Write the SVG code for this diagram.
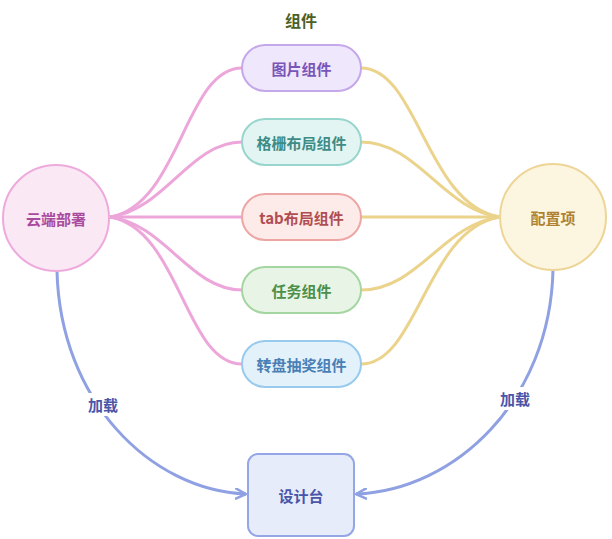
<svg xmlns="http://www.w3.org/2000/svg" width="612" height="539" viewBox="0 0 612 539">
<style>
text{font-family:"Noto Sans CJK SC","Noto Sans",sans-serif;font-weight:bold;font-size:15px;text-anchor:middle;dominant-baseline:central}
.pk{fill:none;stroke:#eda6da;stroke-width:3}
.yl{fill:none;stroke:#ebd38c;stroke-width:3}
.bl{fill:none;stroke:#8fa1e3;stroke-width:3}
.n{stroke-width:2}
</style>
<defs>
<marker id="ab" viewBox="0 0 12 12" refX="11" refY="6" markerWidth="12" markerHeight="12" markerUnits="userSpaceOnUse" orient="auto">
<path d="M1,1 L11,6 L1,11" fill="none" stroke="#8fa1e3" stroke-width="2.5" stroke-linecap="round" stroke-linejoin="round"/>
</marker>
</defs>
<rect width="612" height="539" fill="#ffffff"/>
<text x="301" y="20" font-size="16" style="font-size:16px" fill="#4a6024">组件</text>
<g id="connectors">
<path class="pk" d="M110,217 C180,205 185,68 242,68"/>
<path class="pk" d="M110,217 C165,210 190,142 242,142"/>
<path class="pk" d="M110,217 L242,217"/>
<path class="pk" d="M110,217 C165,224 190,290 242,290"/>
<path class="pk" d="M110,217 C180,229 185,364 242,364"/>
<path class="yl" d="M361,68 C418,68 426,205 500,217"/>
<path class="yl" d="M361,142 C418,142 443,210 500,217"/>
<path class="yl" d="M361,217 L500,217"/>
<path class="yl" d="M361,290 C418,290 443,224 500,217"/>
<path class="yl" d="M361,364 C418,364 426,229 500,217"/>
<path class="bl" d="M57,271 C60,400 150,490 246,494" marker-end="url(#ab)"/>
<path class="bl" d="M553,270 C550,400 456,490 356,494" marker-end="url(#ab)"/>
<rect x="86" y="393" width="34" height="23" fill="#ffffff"/>
<text x="103" y="404" fill="#4a55a8">加载</text>
<rect x="498" y="387" width="34" height="23" fill="#ffffff"/>
<text x="515" y="398" fill="#4a55a8">加载</text>
</g>
<g id="cloud">
<circle class="n" cx="56" cy="218" r="53" fill="#fae8f5" stroke="#eeaadc"/>
<text x="56" y="218" fill="#a94a9d">云端部署</text>
</g>
<g id="config">
<circle class="n" cx="553" cy="217" r="53" fill="#fcf5df" stroke="#ecd596"/>
<text x="553" y="217" fill="#ae8233">配置项</text>
</g>
<g id="pic">
<rect class="n" x="242" y="45" width="119" height="46" rx="23" fill="#efe7fb" stroke="#c4a8ea"/>
<text x="301.5" y="68" fill="#7a55b8">图片组件</text>
</g>
<g id="grid">
<rect class="n" x="242" y="119" width="119" height="46" rx="23" fill="#e2f5f3" stroke="#98d5cd"/>
<text x="301.5" y="142" fill="#3e8c86">格栅布局组件</text>
</g>
<g id="tab">
<rect class="n" x="242" y="194" width="119" height="46" rx="23" fill="#fdebea" stroke="#eea6a4"/>
<text x="301.5" y="217" fill="#b04e52">tab布局组件</text>
</g>
<g id="task">
<rect class="n" x="242" y="267" width="119" height="46" rx="23" fill="#e8f5e6" stroke="#a4d6a1"/>
<text x="301.5" y="290" fill="#4b8f4a">任务组件</text>
</g>
<g id="lottery">
<rect class="n" x="242" y="341" width="119" height="46" rx="23" fill="#e3f1fb" stroke="#98caee"/>
<text x="301.5" y="364" fill="#4a7fb5">转盘抽奖组件</text>
</g>
<g id="designer">
<rect class="n" x="248" y="454" width="106" height="82" rx="10" fill="#e7ecfb" stroke="#95a6e6"/>
<text x="301" y="495" fill="#4a55a8">设计台</text>
</g>
</svg>
